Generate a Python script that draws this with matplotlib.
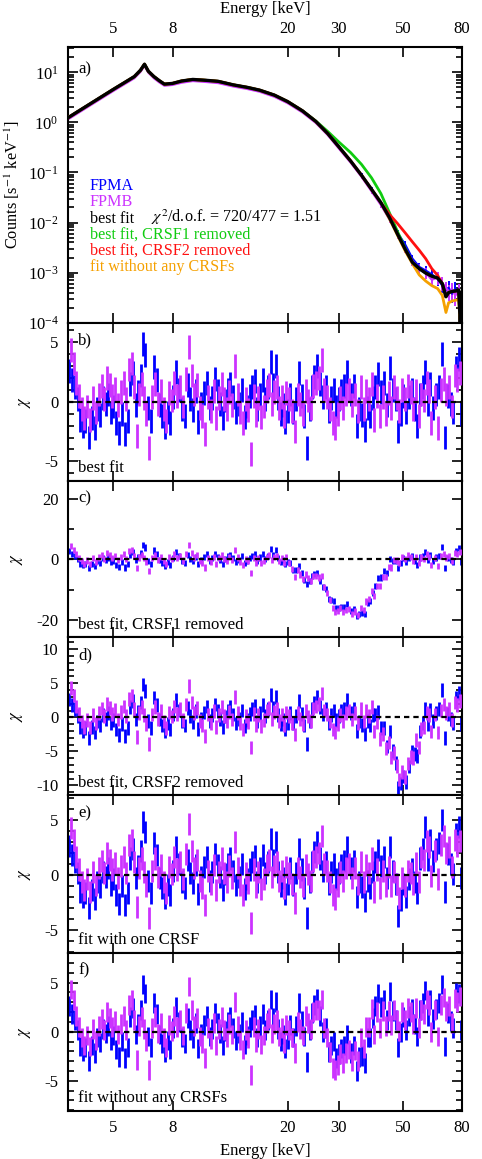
import matplotlib
matplotlib.use("Agg")
import matplotlib.pyplot as plt
from matplotlib.ticker import FixedFormatter, FixedLocator, LogLocator, MultipleLocator, NullFormatter, NullLocator

plt.rcParams["font.family"] = ["Liberation Serif", "DejaVu Serif"]
plt.rcParams["mathtext.fontset"] = "stix"
plt.rcParams["font.size"] = 12
plt.rcParams["axes.linewidth"] = 1.5
plt.rcParams["axes.unicode_minus"] = False

# ---- spectrum panel (a) ----
spec_energy = [3.5, 3.8, 4.2, 4.6, 5.0, 5.5, 5.9, 6.2, 6.4, 6.6,
               6.9, 7.2, 7.5, 8.0, 8.6, 9.4, 10.5, 11.5, 13.0, 14.5,
               16.0, 18.0, 20.0, 22.5, 25.0, 27.5, 30.0, 33.0, 36.0, 39.0,
               42.0, 45.0, 48.0, 51.0, 54.0, 57.0, 60.0, 63.0, 66.0, 68.5,
               70.5, 72.0, 74.0, 76.0, 78.0, 79.0, 80.0]
spec_fpma = [1.27, 1.72, 2.46, 3.40, 4.6, 6.4, 8.2, 11.2, 14.6, 10.6,
             8.2, 6.8, 5.8, 6.0, 6.7, 7.2, 6.9, 6.6, 5.6, 5.0,
             4.4, 3.5, 2.6, 1.7, 1.06, 0.6, 0.33, 0.17, 0.089, 0.046,
             0.024, 0.0125, 0.0062, 0.0036, 0.0019, 0.0013, 0.0011, 0.00092, 0.00075, 0.00055,
             0.00045, 0.0005, 0.00038, 0.00048, 0.0004, 0.00025, 0.00035]
spec_fpmb = [1.17, 1.58, 2.27, 3.15, 4.26, 5.95, 7.6, 10.2, 13.5, 9.8,
             7.6, 6.3, 5.4, 5.6, 6.2, 6.7, 6.4, 6.1, 5.2, 4.65,
             4.1, 3.25, 2.42, 1.58, 0.98, 0.56, 0.305, 0.158, 0.082, 0.042,
             0.0225, 0.0115, 0.0056, 0.0030, 0.0017, 0.0012, 0.0010, 0.00072, 0.0008, 0.00062,
             0.0005, 0.00042, 0.00045, 0.00035, 0.00042, 0.0003, 0.0004]
spec_relerr = [0.01] * 23 + [0.02, 0.03, 0.04, 0.05,
                             0.06, 0.08, 0.10, 0.12, 0.14,
                             0.16, 0.18, 0.20, 0.22, 0.24,
                             0.26, 0.28, 0.30, 0.32, 0.34, 0.36, 0.38, 0.40, 0.42, 0.44]
model_best = [1.26, 1.70, 2.44, 3.39, 4.58, 6.4, 8.2, 11.0, 14.5, 10.5,
              8.2, 6.8, 5.8, 6.0, 6.7, 7.2, 6.9, 6.6, 5.6, 5.0,
              4.4, 3.5, 2.6, 1.7, 1.05, 0.6, 0.33, 0.17, 0.088, 0.046,
              0.025, 0.0125, 0.0058, 0.0029, 0.0016, 0.0012, 0.00098, 0.00085, 0.00078, 0.0006,
              0.00033, 0.0004, 0.00042, 0.00043, 0.00045, 0.0001, 0.0004]
model_no_crsf1 = [1.26, 1.70, 2.44, 3.39, 4.58, 6.4, 8.2, 11.0, 14.5, 10.5,
                  8.2, 6.8, 5.8, 6.0, 6.7, 7.2, 6.9, 6.6, 5.6, 5.0,
                  4.4, 3.5, 2.6, 1.7, 1.07, 0.66, 0.41, 0.25, 0.145, 0.078,
                  0.038, 0.0155, 0.0065, 0.003, 0.0016, 0.0012, 0.00098, 0.00085, 0.00078, 0.0006,
                  0.00033, 0.0004, 0.00042, 0.00043, 0.00045, 0.0001, 0.0004]
model_no_crsf2 = [1.26, 1.70, 2.44, 3.39, 4.58, 6.4, 8.2, 11.0, 14.5, 10.5,
                  8.2, 6.8, 5.8, 6.0, 6.7, 7.2, 6.9, 6.6, 5.6, 5.0,
                  4.4, 3.5, 2.6, 1.7, 1.05, 0.6, 0.33, 0.17, 0.088, 0.046,
                  0.025, 0.0145, 0.0095, 0.0062, 0.0041, 0.0028, 0.0019, 0.0012, 0.00088, 0.0006,
                  0.00033, 0.0004, 0.00042, 0.00043, 0.00045, 0.0001, 0.0004]
model_no_crsfs = [1.26, 1.70, 2.44, 3.39, 4.58, 6.4, 8.2, 11.0, 14.5, 10.5,
                  8.2, 6.8, 5.8, 6.0, 6.7, 7.2, 6.9, 6.6, 5.6, 5.0,
                  4.4, 3.5, 2.6, 1.7, 1.05, 0.6, 0.33, 0.17, 0.088, 0.046,
                  0.025, 0.0118, 0.0055, 0.0027, 0.0015, 0.0009, 0.00068, 0.00055, 0.00048, 0.00035,
                  0.00016, 0.00025, 0.00027, 0.00028, 0.00029, 0.0001, 0.0003]

# ---- residual panels (b-f): bin energies [keV] of FPMA / FPMB ----
energy_a = [3.52, 3.60, 3.68, 3.76, 3.84, 3.92, 4.00,
            4.10, 4.20, 4.30, 4.40, 4.50, 4.60, 4.70, 4.80, 4.90, 5.00,
            5.12, 5.24, 5.36, 5.48, 5.60, 5.72, 5.84, 5.96, 6.08, 6.20, 6.32, 6.44,
            6.58, 6.74, 6.90, 7.06, 7.22, 7.38, 7.54, 7.70, 7.86, 8.02,
            8.22, 8.42, 8.62, 8.82, 9.02, 9.22, 9.42, 9.62, 9.82, 10.02,
            10.26, 10.50, 10.74, 10.98, 11.22, 11.46, 11.70, 11.94, 12.18, 12.42,
            12.69, 12.99, 13.29, 13.59, 13.89, 14.19, 14.49, 14.79, 15.09, 15.39, 15.69,
            16.02, 16.38, 16.74, 17.10, 17.46, 17.82, 18.18, 18.54, 18.90, 19.26, 19.62, 19.98,
            20.44, 20.92, 21.40, 21.88, 22.36, 22.84, 23.32, 23.80, 24.28, 24.76,
            25.3, 25.9, 26.5, 27.1, 27.7, 28.3, 28.9, 29.5, 30.1, 30.7,
            31.4, 32.2, 33.0, 33.8, 34.6, 35.4, 36.2, 37.0, 37.8, 38.6, 39.4, 40.2,
            41.2, 42.2, 43.2, 44.2, 45.2, 46.2, 47.2, 48.2, 49.2, 50.2,
            51.4, 52.6, 53.8, 55.0, 56.2, 57.4, 58.6, 59.8, 61.0, 62.2,
            63.6, 65.2, 66.8, 68.4, 70.0, 71.6, 73.2, 74.8, 76.4, 78.0, 79.6]
energy_b = [3.56, 3.64, 3.72, 3.80, 3.88, 3.96,
            4.05, 4.15, 4.25, 4.35, 4.45, 4.55, 4.65, 4.75, 4.85, 4.95,
            5.06, 5.18, 5.30, 5.42, 5.54, 5.66, 5.78, 5.90, 6.02, 6.14, 6.26, 6.38, 6.50,
            6.66, 6.82, 6.98, 7.14, 7.30, 7.46, 7.62, 7.78, 7.94,
            8.12, 8.32, 8.52, 8.72, 8.92, 9.12, 9.32, 9.52, 9.72, 9.92,
            10.14, 10.38, 10.62, 10.86, 11.10, 11.34, 11.58, 11.82, 12.06, 12.30, 12.54,
            12.84, 13.14, 13.44, 13.74, 14.04, 14.34, 14.64, 14.94, 15.24, 15.54, 15.84,
            16.20, 16.56, 16.92, 17.28, 17.64, 18.00, 18.36, 18.72, 19.08, 19.44, 19.80,
            20.20, 20.68, 21.16, 21.64, 22.12, 22.60, 23.08, 23.56, 24.04, 24.52, 25.00,
            25.6, 26.2, 26.8, 27.4, 28.0, 28.6, 29.2, 29.8, 30.4, 31.0,
            31.8, 32.6, 33.4, 34.2, 35.0, 35.8, 36.6, 37.4, 38.2, 39.0, 39.8,
            40.7, 41.7, 42.7, 43.7, 44.7, 45.7, 46.7, 47.7, 48.7, 49.7,
            50.8, 52.0, 53.2, 54.4, 55.6, 56.8, 58.0, 59.2, 60.4, 61.6, 62.8,
            64.4, 66.0, 67.6, 69.2, 70.8, 72.4, 74.0, 75.6, 77.2, 78.8]

# b) best fit
chi_b_a = [2.6, 1.8, 1.2, 0.2, -1.5, -2.0, -1.6,
           -3.0, -1.4, -2.2, -0.6, -1.1, 0.3, -0.2, 0.6, -0.9, -0.4,
           -1.8, -2.6, -1.0, -2.7, -1.6, 1.5, 2.4, -0.3, 0.8, 2.2, 4.8, 3.9,
           -0.5, -1.6, 2.9, 1.8, -0.3, -1.2, -2.1, -0.9, -1.8, 0.4,
           2.5, 1.0, -0.6, -1.2, 1.4, 0.2, -0.7, 0.9, -1.7, -0.2,
           0.7, 1.6, -0.5, 0.3, 1.9, 0.9, -0.2, -1.4, 0.1, 1.0,
           1.5, 0.4, -0.9, -0.2, 1.0, -1.3, -0.4, 0.5, 1.2, 1.7, -0.6,
           0.6, 1.8, 0.2, 1.2, 3.3, 1.4, 3.0, 0.3, -1.0, -0.3, -1.7, -0.8,
           0.6, -0.9, 0.2, 2.4, 0.5, -1.2, -3.9, -0.6, 1.2, 2.1,
           3.0, 1.5, 0.4, 1.2, -0.8, 0.3, 1.0, -0.4, 0.2, 0.9,
           1.3, 2.5, 0.6, 1.3, -2.0, -0.6, -1.1, -2.4, -0.5, -1.2, 0.3, 1.2,
           2.3, 0.8, 1.6, -0.3, 2.8, 1.0, 0.2, -2.5, -1.0, 0.5,
           -0.9, 0.4, 1.0, -0.6, -2.0, 0.6, 1.2, 2.5, -0.2, 1.5,
           -0.5, 0.6, 1.2, 4.0, -3.0, 0.5, -0.2, -0.9, 2.8, 3.6, -1.0]
chi_b_m = [4.3, 3.2, 1.6, 0.5, -0.6, -1.4,
           -0.4, -1.5, 0.3, -0.9, 0.6, 1.3, 0.2, 2.0, 1.4, 0.5,
           1.1, -0.3, 0.8, 1.6, 0.2, 2.7, 3.2, 1.2, -2.9, 0.6, 1.5, 0.3, -1.0,
           -3.9, 0.4, 1.5, -0.2, 0.9, -0.6, -1.6, 0.7, 0.1,
           1.6, 0.5, 1.2, -0.4, 1.9, 4.6, 2.2, 0.6, 1.4, -0.5,
           -1.2, -2.7, 0.4, -0.8, 0.9, -1.4, 0.3, 1.5, 0.2, -0.6, 0.8,
           -0.3, 3.0, 0.6, -0.9, -1.8, 0.2, -0.7, -4.4, 0.5, -1.1, 0.3,
           -1.3, -0.4, 0.9, 1.4, -0.2, 0.8, 1.2, -0.5, 0.4, -1.2, 0.7,
           0.2, -0.8, -2.5, 0.6, -0.2, -1.0, 0.9, 0.1, -0.5, 1.3, 1.6,
           2.0, 3.5, 1.0, 0.4, -0.6, -1.8, -2.2, -1.0, 0.3, -0.5,
           0.6, 1.0, -0.3, 0.6, -0.8, 1.2, -0.6, 0.9, 0.2, 1.5, -1.5,
           0.5, -1.2, 0.4, -1.0, 0.7, -0.5, 1.2, 0.3, -0.8, 1.0,
           0.2, 1.3, 0.8, -0.6, 0.9, -1.2, 0.6, 0.1, 1.6, 0.9, -1.8,
           0.4, -2.2, 1.0, 1.9, 0.6, 1.2, -0.4, 2.2, 1.8, 2.4]

# c) best fit, CRSF1 removed (bins 20-50 keV differ)
chi_c_a = chi_b_a[:82] + [-1.2, -3.6, -3.6, -2.1, -4.6, -6.8, -8.0, -7.0, -5.5, -4.8,
                          -4.6, -7.0, -9.1, -9.7, -13.0, -13.3, -13.7, -16.1, -15.9, -15.7,
                          -15.7, -14.8, -17.0, -16.4, -18.6, -18.1, -17.7, -17.9, -14.5, -13.8, -11.0, -8.9,
                          -6.2, -6.0, -3.9, -4.5, 0.1, -0.7, -0.7, -3.0, -1.2, 0.5] + chi_b_a[124:]
chi_c_m = chi_b_m[:81] + [-1.2, -3.2, -5.8, -3.6, -5.0, -6.4, -5.0, -6.2, -7.1, -5.5, -5.5,
                          -6.0, -5.5, -9.2, -11.1, -13.5, -15.9, -17.4, -16.9, -16.0, -17.3,
                          -16.6, -16.4, -18.0, -17.2, -18.5, -16.0, -16.7, -13.9, -13.1, -10.5, -12.1,
                          -8.8, -8.8, -5.8, -5.9, -2.6, -2.7, -0.1, -0.4, -1.1, 0.9] + chi_b_m[123:]

# d) best fit, CRSF2 removed (bins 40-63 keV differ)
chi_d_a = chi_b_a[:113] + [0.4,
                           0.8, -1.6, -1.6, -4.3, -2.1, -4.9, -6.7, -10.4, -9.7, -8.7,
                           -9.5, -7.2, -5.0, -5.4, -5.7, -2.1, -0.8, 1.2, -1.0, 1.1] + chi_b_a[134:]
chi_d_m = chi_b_m[:112] + [-2.1,
                           -0.7, -3.2, -2.4, -4.6, -3.7, -5.9, -5.2, -7.1, -9.1, -8.0,
                           -8.8, -6.8, -5.8, -6.0, -3.3, -4.4, -1.7, -1.5, 0.6, 0.3, -2.1] + chi_b_m[134:]

# e) fit with one CRSF (bins above 45 keV differ)
chi_e_a = chi_b_a[:118] + [2.5, 0.4, -0.8, -3.7, -2.3, -0.8,
                           -2.0, -0.4, 0.5, -0.6, -1.6, 1.5, 2.4, 4.4, 1.4, 3.2,
                           1.3, 2.4, 2.9, 5.0, -1.5, 1.9, 1.0, 0.1, 3.7, 4.4, -0.3]
chi_e_m = chi_b_m[:118] + [-1.0, 0.3, -0.8, -2.1, -0.3,
                           -1.0, 0.4, 0.2, -0.8, 1.1, -0.6, 1.6, 1.4, 3.1, 2.5, -0.1,
                           2.2, -0.4, 2.7, 3.5, 2.0, 2.5, 0.7, 3.2, 2.6, 3.1]

# f) fit without any CRSFs (bins above 20 keV differ)
chi_f_a = chi_b_a[:82] + [0.7, -0.6, 0.6, 2.9, 1.1, -0.5, -3.1, 0.2, 1.9, 2.7,
                          3.4, 1.6, 0.0, 0.4, -2.1, -1.4, -1.0, -2.7, -2.3, -1.7,
                          -1.4, -0.3, -2.2, -1.4, -4.0, -2.6, -2.5, -3.2, -0.6, -0.6, 1.4, 2.6,
                          3.9, 2.5, 3.3, 1.2, 4.1, 2.1, 1.2, -1.6, -0.1, 1.5,
                          0.2, 1.6, 2.3, 0.8, -0.5, 2.2, 2.9, 4.2, 1.6, 3.3,
                          1.3, 2.3, 2.9, 4.8, -1.5, 1.9, 1.1, 0.4, 4.0, 3.9, 0.2]
chi_f_m = chi_b_m[:81] + [0.2, -0.6, -2.2, 1.0, 0.3, -0.4, 1.6, 0.9, 0.3, 2.0, 2.2,
                          2.2, 3.3, 0.4, -0.6, -2.1, -3.7, -3.9, -3.4, -2.3, -3.2,
                          -2.2, -1.8, -3.0, -1.9, -3.0, -0.6, -1.7, 0.5, 0.5, 2.3, -0.3,
                          2.0, 0.4, 2.1, 0.6, 2.1, 0.7, 2.2, 1.2, 0.1, 2.0,
                          1.2, 2.4, 2.0, 0.8, 2.4, 0.4, 2.2, 1.8, 3.3, 2.7, 0.0,
                          2.2, -0.5, 2.7, 3.5, 2.1, 2.6, 0.9, 3.4, 3.0, 3.6]

x_ticks = [5, 8, 20, 30, 50, 80]
x_ticklabels = ["5", "8", "20", "30", "50", "80"]

COL_A = "#0000ff"
COL_B = "#cc33ff"
COL_GREEN = "#11cc11"
COL_RED = "#ff1010"
COL_ORANGE = "#f5a000"

fig = plt.figure(figsize=(4.82, 11.59), dpi=100)
edges = [47, 322.7, 480.7, 637.3, 795, 952.7, 1110.7]
axes = []
for i in range(6):
    top, bot = edges[i], edges[i + 1]
    axes.append(fig.add_axes([68.3 / 482, 1 - bot / 1159, 394 / 482, (bot - top) / 1159]))


def style_x(ax, labeltop=False, labelbottom=False):
    ax.set_xscale("log")
    ax.set_xlim(3.49, 80.3)
    ax.xaxis.set_major_locator(FixedLocator(x_ticks))
    ax.xaxis.set_major_formatter(FixedFormatter(x_ticklabels))
    ax.xaxis.set_minor_locator(NullLocator())
    ax.tick_params(axis="x", which="major", direction="in", top=True, bottom=True,
                   length=7, width=1.2, pad=7, labeltop=labeltop, labelbottom=labelbottom)
    ax.tick_params(axis="y", which="both", direction="in", left=True, right=True, width=1.2, pad=7)
    ax.tick_params(axis="y", which="major", length=7)
    ax.tick_params(axis="y", which="minor", length=4)


# panel a
ax = axes[0]
for flux, col in [(spec_fpma, COL_A), (spec_fpmb, COL_B)]:
    err = [f * r for f, r in zip(flux, spec_relerr)]
    ax.errorbar(spec_energy, flux, yerr=err, color=col, lw=1.6, elinewidth=1.4, capsize=0, zorder=2)
ax.plot(spec_energy, model_no_crsf1, color=COL_GREEN, lw=2.0, zorder=3)
ax.plot(spec_energy, model_no_crsf2, color=COL_RED, lw=2.0, zorder=4)
ax.plot(spec_energy, model_no_crsfs, color=COL_ORANGE, lw=2.0, zorder=5)
ax.plot(spec_energy, model_best, color="black", lw=2.4, zorder=6)
style_x(ax, labeltop=True)
ax.set_yscale("log")
ax.set_ylim(1e-4, 32)
ax.yaxis.set_major_locator(LogLocator(base=10, numticks=10))
ax.yaxis.set_minor_locator(LogLocator(base=10, subs=[2, 3, 4, 5, 6, 7, 8, 9], numticks=50))
ax.yaxis.set_minor_formatter(NullFormatter())
ax.xaxis.set_label_position("top")
ax.set_xlabel("Energy [keV]", labelpad=6)
ax.set_ylabel(r"Counts [s$^{-1}$ keV$^{-1}$]", fontsize=11.8)
ax.yaxis.set_label_coords(-0.118, 0.5)
ax.text(0.025, 0.92, "a)", transform=ax.transAxes, va="center")
legend_rows = [("FPMA", COL_A), ("FPMB", COL_B), ("best fit", "black"),
               ("best fit, CRSF1 removed", COL_GREEN), ("best fit, CRSF2 removed", COL_RED),
               ("fit without any CRSFs", COL_ORANGE)]
row_y = [0.497, 0.438, 0.377, 0.319, 0.260, 0.202]
for (txt, col), yy in zip(legend_rows, row_y):
    ax.text(0.055, yy, txt, color=col, fontsize=11.6, transform=ax.transAxes, va="center")
ax.text(0.21, row_y[2] + 0.004, r"$\chi^2$/d.o.f. = 720/477 = 1.51", fontsize=11.6,
        transform=ax.transAxes, va="center")

# residual panels
resid = [
    (chi_b_a, chi_b_m, (-6.62, 6.62), 5, 1, "b)", "best fit"),
    (chi_c_a, chi_c_m, (-25.7, 25.9), 20, 10, "c)", "best fit, CRSF1 removed"),
    (chi_d_a, chi_d_m, (-11.4, 11.75), 5, 1, "d)", "best fit, CRSF2 removed"),
    (chi_e_a, chi_e_m, (-7.06, 7.27), 5, 1, "e)", "fit with one CRSF"),
    (chi_f_a, chi_f_m, (-8.05, 8.05), 5, 1, "f)", "fit without any CRSFs"),
]
for ax, (ca, cb, ylim, major, minor, tag, label) in zip(axes[1:], resid):
    ax.errorbar(energy_a, ca, yerr=1.0, fmt="none", ecolor=COL_A,
                elinewidth=2.0, capsize=0, zorder=2)
    ax.errorbar(energy_b, cb, yerr=1.0, fmt="none", ecolor=COL_B,
                elinewidth=2.0, capsize=0, zorder=3)
    ax.axhline(0, color="black", ls=(0, (2.4, 1.8)), lw=1.6, zorder=5)
    style_x(ax, labelbottom=(tag == "f)"))
    ax.set_ylim(*ylim)
    ax.yaxis.set_major_locator(MultipleLocator(major))
    ax.yaxis.set_minor_locator(MultipleLocator(minor))
    ax.set_ylabel(r"$\chi$", labelpad=8)
    ax.text(0.025, 0.885, tag, transform=ax.transAxes, va="center")
    ax.text(0.025, 0.08, label, transform=ax.transAxes, va="center")

axes[-1].set_xlabel("Energy [keV]", labelpad=5)

fig.savefig("out.png", dpi=100)
